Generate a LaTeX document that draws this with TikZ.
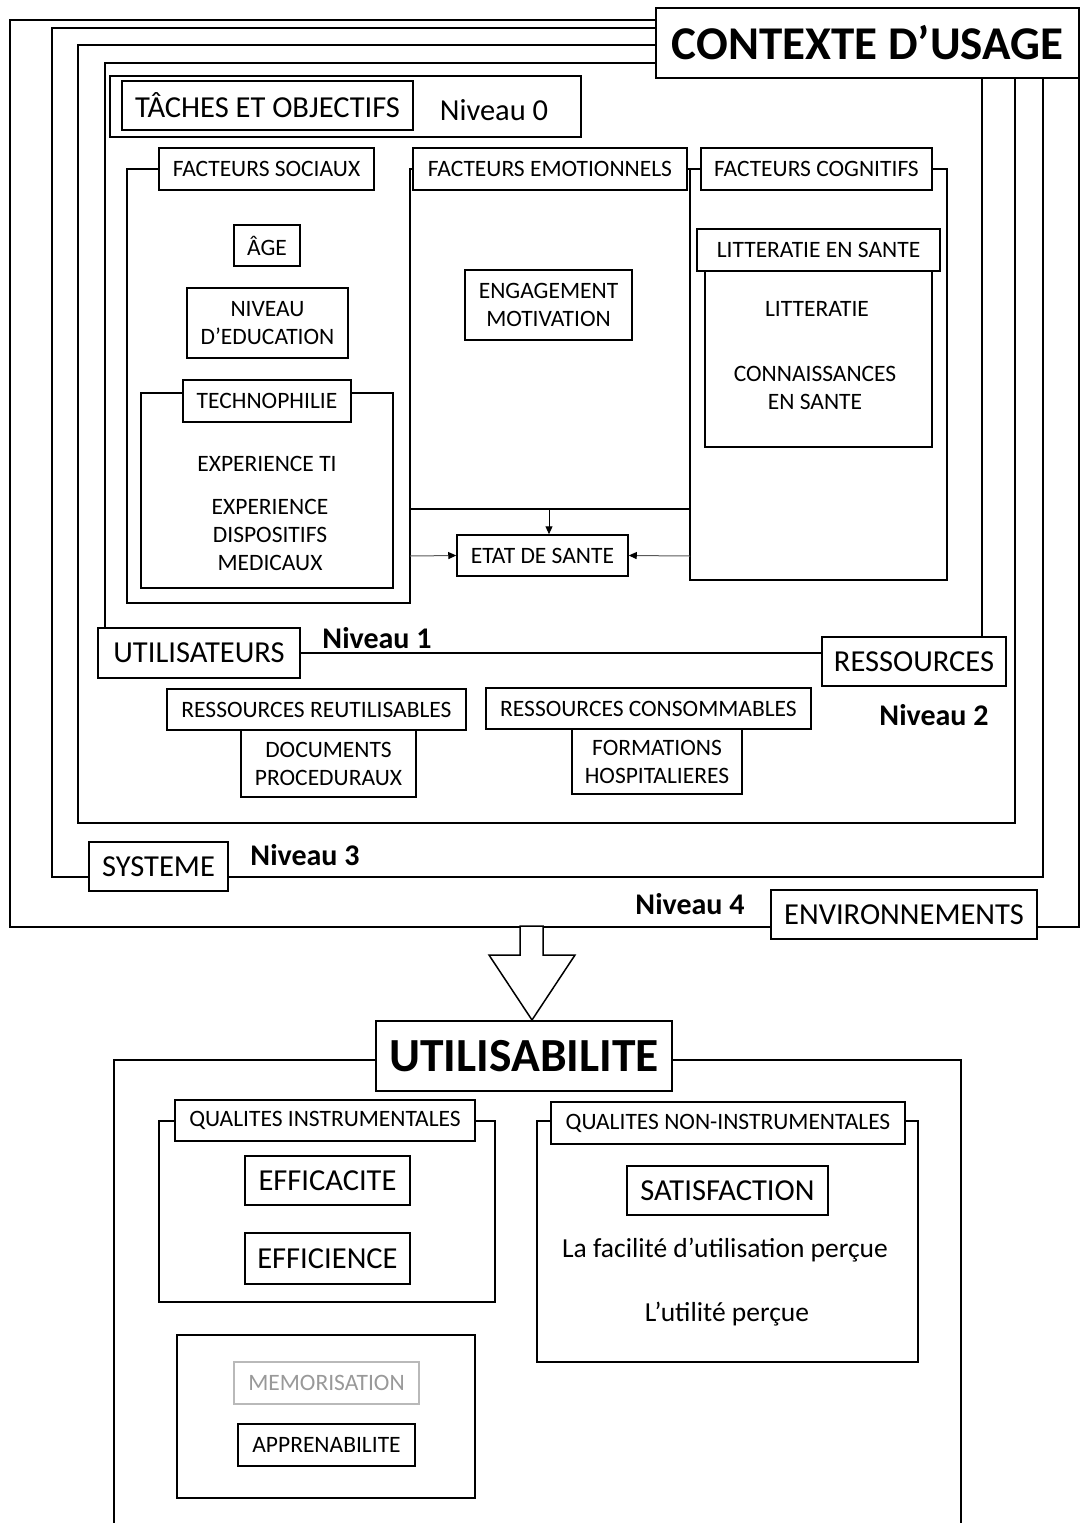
\documentclass[tikz,border=0pt]{standalone}
\usepackage{fontspec}
\setmainfont{Carlito}
\usetikzlibrary{positioning, arrows.meta, backgrounds}

\begin{document}
\begin{tikzpicture}[
  x=1pt, y=-1pt,
  box/.style={draw, line width=1.5pt, fill=white, inner sep=0pt, align=center, font=\fontsize{23.5}{28}\selectfont},
  bigbox/.style={box, font=\fontsize{30.5}{34}\selectfont},
  lbl/.style={inner sep=0pt, align=center, font=\fontsize{23.5}{28}\selectfont},
  niv/.style={inner sep=0pt, font=\bfseries\fontsize{30}{34}\selectfont},
  frame/.style={line width=1.5pt},
  arrow/.style={-{Triangle[length=8pt, width=7pt, color=black]}, draw=gray!70!black, line width=1pt}
]
\useasboundingbox (0,0) rectangle (1083,1523);

% contexte d'usage
\node[box, font=\bfseries\fontsize{47}{52}\selectfont, minimum width=423pt, minimum height=70pt] (ctx) at (867.5,43) {CONTEXTE D’USAGE};

% niveau 0
\node[box, minimum width=471pt, minimum height=61pt] (lvl0) at (345.5,106.5) {};
\node[bigbox, minimum width=291pt, minimum height=49pt] (taches) at (267.5,105.5) {TÂCHES ET OBJECTIFS};
\node[lbl, font=\fontsize{30.5}{34}\selectfont] (niv0) at (494,110) {Niveau 0};

% facteurs
\node[box, minimum width=215pt, minimum height=42pt] (soch) at (266.5,169) {FACTEURS SOCIAUX};
\node[box, minimum width=274pt, minimum height=42pt] (emoh) at (550,169) {FACTEURS EMOTIONNELS};
\node[box, minimum width=231pt, minimum height=42pt] (cogh) at (816.5,169) {FACTEURS COGNITIFS};

\node[box, minimum width=66pt, minimum height=41pt] (age) at (267,245.5) {ÂGE};
\node[box, minimum width=161pt, minimum height=70pt] (educ) at (267.5,323) {NIVEAU\\D’EDUCATION};
\node[box, minimum width=168pt, minimum height=42pt] (techh) at (267,401) {TECHNOPHILIE};
\node[lbl] (expti) at (267,464) {EXPERIENCE TI};
\node[lbl] (expdm) at (270,535) {EXPERIENCE\\DISPOSITIFS\\MEDICAUX};

\node[box, minimum width=167pt, minimum height=70pt] (engag) at (548.5,305) {ENGAGEMENT\\MOTIVATION};
\node[box, minimum width=171pt, minimum height=41pt] (etat) at (542.5,555.5) {ETAT DE SANTE};

\node[box, minimum width=227pt, minimum height=176pt] (litbox) at (818.5,359) {};
\node[box, minimum width=243pt, minimum height=42pt] (lith) at (818.5,250) {LITTERATIE EN SANTE};
\node[lbl] (litt) at (817,309) {LITTERATIE};
\node[lbl] (conn) at (815,388) {CONNAISSANCES\\EN SANTE};

% niveau 1
\node[bigbox, minimum width=202pt, minimum height=50pt] (util) at (199,653) {UTILISATEURS};
\node[bigbox, minimum width=184pt, minimum height=49pt] (ress) at (914,661.5) {RESSOURCES};
\node[niv] (niv1) at (377,638) {Niveau 1};

% niveau 2
\node[box, minimum width=175pt, minimum height=67pt] (docs) at (328.5,763.5) {DOCUMENTS\\PROCEDURAUX};
\node[box, minimum width=299pt, minimum height=41pt] (reuh) at (316.5,709.5) {RESSOURCES REUTILISABLES};
\node[box, minimum width=170pt, minimum height=65pt] (form) at (657,761.5) {FORMATIONS\\HOSPITALIERES};
\node[box, minimum width=325pt, minimum height=41pt] (consh) at (648.5,708.5) {RESSOURCES CONSOMMABLES};
\node[niv] (niv2) at (934,715) {Niveau 2};

% niveau 3 et 4
\node[bigbox, minimum width=139pt, minimum height=49pt] (sys) at (158.5,866.5) {SYSTEME};
\node[niv] (niv3) at (305,855) {Niveau 3};
\node[bigbox, minimum width=266pt, minimum height=49pt] (env) at (904,914.5) {ENVIRONNEMENTS};
\node[niv] (niv4) at (690,904) {Niveau 4};

\begin{scope}[on background layer]
  \draw[frame] (ctx.west |- 0,20) -- (10,20) -- (10,927) -- (1079,927) -- (1079,0 |- ctx.south);
  \draw[frame] (ctx.west |- 0,28) -- (52,28) -- (52,877) -- (1043,877) -- (1043,0 |- ctx.south);
  \draw[frame] (ctx.west |- 0,45) -- (78,45) -- (78,823) -- (1015,823) -- (1015,0 |- ctx.south);
  \draw[frame] (ctx.west |- 0,63) -- (105,63) -- (105,0 |- util.north);
  \draw[frame] (982,0 |- ctx.south) -- (982,0 |- ress.north);
  \draw[frame] (util.east) -- (util.east -| ress.west);
  % colonnes
  \draw[frame] (soch.west) -- (127,169) -- (127,603) -- (410,603) -- (410,169) -- (emoh.west);
  \draw[frame] (emoh.east) -- (cogh.west);
  \draw[frame] (690,169) -- (690,580) -- (947,580) -- (947,169) -- (cogh.east);
  \draw[frame] (techh.west |- 0,393) -- (141,393) -- (141,588) -- (393,588) -- (393,393) -- (techh.east |- 0,393);
  \draw[frame] (410,509) coordinate (emobl) -- (690,509) coordinate (emobr);
\end{scope}

\coordinate (emodown) at (549,509);
\coordinate (socout) at (410,556);
\coordinate (cogout) at (690,556);
\draw[arrow, draw=black] (emodown) -- (emodown |- etat.north);
\draw[arrow] (socout) -- (etat.west);
\draw[arrow] (cogout) -- (etat.east);

% fleche vers utilisabilite
\draw[frame, fill=white] (520,926) -- (520,955) -- (489,955) -- (532,1020) -- (575,955) -- (543,955) -- (543,926) -- cycle;

% utilisabilite
\node[box, font=\bfseries\fontsize{47.5}{52}\selectfont, minimum width=296pt, minimum height=70pt] (usab) at (524,1056) {UTILISABILITE};
\node[box, minimum width=300pt, minimum height=41pt] (qih) at (325,1120.5) {QUALITES INSTRUMENTALES};
\node[bigbox, minimum width=165pt, minimum height=49pt] (effa) at (327.5,1180.5) {EFFICACITE};
\node[bigbox, minimum width=165pt, minimum height=51pt] (effi) at (327.5,1258.5) {EFFICIENCE};
\node[box, minimum width=298pt, minimum height=163pt] (apbox) at (326,1416.5) {};
\node[box, draw=gray!55, text=gray!80, minimum width=185pt, minimum height=42pt] (memo) at (326.5,1383) {MEMORISATION};
\node[box, minimum width=177pt, minimum height=42pt] (appr) at (326.5,1445) {APPRENABILITE};
\node[box, minimum width=354pt, minimum height=42pt] (qnh) at (728,1123) {QUALITES NON-INSTRUMENTALES};
\node[bigbox, minimum width=201pt, minimum height=49pt] (satis) at (727.5,1190.5) {SATISFACTION};
\node[lbl, font=\fontsize{27.5}{32}\selectfont] (facil) at (725,1250) {La facilité d’utilisation perçue};
\node[lbl, font=\fontsize{27.5}{32}\selectfont] (utile) at (727,1314) {L’utilité perçue};

\begin{scope}[on background layer]
  \draw[frame] (usab.west |- 0,1060) -- (114,1060) -- (114,1523);
  \draw[frame] (usab.east |- 0,1060) -- (961,1060) -- (961,1523);
  \draw[frame] (qih.west |- 0,1121) -- (159,1121) -- (159,1302) -- (495,1302) -- (495,1121) -- (qih.east |- 0,1121);
  \draw[frame] (qnh.west |- 0,1121) -- (537,1121) -- (537,1362) -- (918,1362) -- (918,1121) -- (qnh.east |- 0,1121);
\end{scope}

\end{tikzpicture}
\end{document}
